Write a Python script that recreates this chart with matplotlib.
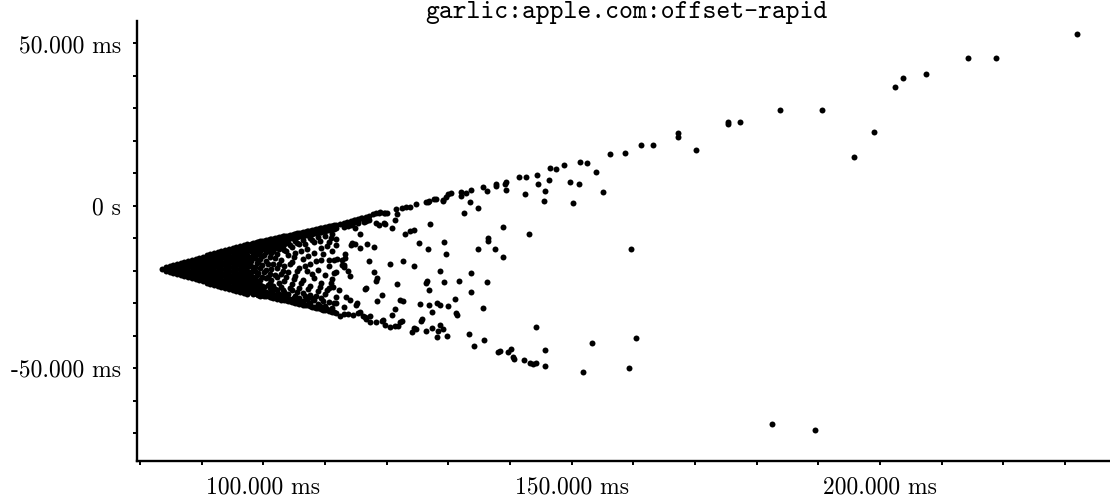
import matplotlib
matplotlib.use("Agg")
import matplotlib.pyplot as plt
from matplotlib.ticker import MultipleLocator

plt.rcParams['font.family'] = ['cmr10', 'DejaVu Serif']
plt.rcParams['axes.unicode_minus'] = False

# offsets (ms) vs round-trip delay (ms)
# solid apex of the fan: delay -> list of offsets
apex_cols = {
    83.6: [-19.4],
    84.2: [-18.9, -19.9],
    84.8: [-18.6, -19.4, -20.2],
    85.4: [-18.2, -19.0, -19.8, -20.6],
    86.0: [-17.9, -18.9, -19.9, -20.9],
    86.6: [-17.6, -18.5, -19.4, -20.3, -21.2],
    87.2: [-17.2, -18.3, -19.4, -20.5, -21.6],
    87.8: [-16.9, -17.9, -18.9, -19.9, -20.9, -21.9],
    88.4: [-16.6, -17.7, -18.8, -20.0, -21.1, -22.2],
    89.0: [-16.2, -17.3, -18.3, -19.4, -20.5, -21.5, -22.6],
    89.6: [-15.9, -17.1, -18.2, -19.4, -20.6, -21.7, -22.9],
    90.2: [-15.6, -16.7, -17.8, -18.9, -19.9, -21.0, -22.1, -23.2],
    90.8: [-15.2, -16.3, -17.3, -18.4, -19.4, -20.5, -21.5, -22.6, -23.6],
    91.4: [-14.9, -16.0, -17.1, -18.3, -19.4, -20.5, -21.7, -22.8, -23.9],
    92.0: [-14.6, -15.7, -16.7, -17.8, -18.9, -19.9, -21.0, -22.1, -23.1, -24.2],
    92.6: [-14.2, -15.4, -16.5, -17.7, -18.8, -20.0, -21.2, -22.3, -23.5, -24.6],
    93.2: [-13.9, -15.0, -16.1, -17.2, -18.3, -19.4, -20.5, -21.6, -22.7, -23.8, -24.9],
    93.8: [-13.6, -14.8, -15.9, -17.1, -18.2, -19.4, -20.6, -21.7, -22.9, -24.0, -25.2],
    94.4: [-13.2, -14.3, -15.5, -16.6, -17.7, -18.8, -20.0, -21.1, -22.2, -23.3, -24.5, -25.6],
    95.0: [-12.9, -14.1, -15.3, -16.4, -17.6, -18.8, -20.0, -21.2, -22.4, -23.5, -24.7, -25.9],
    95.6: [-12.6, -13.7, -14.9, -16.0, -17.1, -18.3, -19.4, -20.5, -21.7, -22.8, -23.9, -25.1, -26.2],
    96.2: [-12.2, -13.4, -14.6, -15.8, -17.0, -18.2, -19.4, -20.6, -21.8, -23.0, -24.2, -25.4, -26.6],
    96.8: [-11.9, -13.1, -14.2, -15.4, -16.5, -17.7, -18.8, -20.0, -21.1, -22.3, -23.4, -24.6, -25.7, -26.9],
    97.4: [-11.6, -12.8, -14.0, -15.2, -16.4, -17.6, -18.8, -20.0, -21.2, -22.4, -23.6, -24.8, -26.0, -27.2],
}

# opening part of the fan, holes start to appear
fan_cols = {
    98.0: [-11.6, -12.8, -14.0, -15.6, -17.0, -18.4, -20.2, -21.5, -23.0, -24.4, -25.6, -26.6],
    98.6: [-11.3, -12.4, -13.6, -16.0, -18.8, -19.9, -22.6, -24.0, -25.3, -26.9],
    99.2: [-11.0, -12.1, -13.3, -14.7, -17.4, -20.6, -23.4, -25.2, -26.3, -27.3],
    99.8: [-10.8, -11.9, -13.1, -15.5, -18.1, -21.8, -24.6, -25.9, -27.5],
    100.4: [-10.6, -11.6, -12.8, -14.2, -16.8, -19.6, -22.3, -26.6, -27.8],
    101.0: [-10.3, -11.4, -12.6, -15.8, -20.9, -23.6, -25.4, -26.8, -27.9],
    101.6: [-10.1, -11.1, -12.3, -13.9, -17.9, -24.5, -27.2, -28.3],
    102.2: [-9.8, -10.9, -12.0, -14.8, -19.2, -22.0, -26.0, -27.5, -28.6],
    102.8: [-9.6, -10.6, -11.8, -16.6, -21.0, -25.0, -27.8, -28.8],
    103.4: [-9.3, -10.4, -11.6, -13.5, -18.6, -23.2, -26.4, -28.1, -29.0],
    104.0: [-9.1, -10.1, -11.3, -15.0, -20.4, -27.1, -28.4, -29.3],
    104.6: [-8.8, -9.9, -12.6, -17.2, -24.0, -26.0, -28.7, -29.5],
    105.2: [-8.6, -9.6, -10.8, -14.4, -21.6, -27.6, -29.0, -29.8],
    105.8: [-8.3, -9.4, -11.8, -19.0, -25.2, -28.2, -30.1],
    106.4: [-8.1, -9.1, -10.4, -16.2, -22.8, -26.8, -29.2, -30.4],
    107.0: [-7.8, -8.9, -13.2, -20.0, -28.6, -30.6],
    107.6: [-7.6, -8.6, -9.8, -17.8, -24.6, -27.4, -29.8, -30.9],
    108.2: [-7.3, -8.4, -11.2, -14.6, -22.2, -29.0, -31.2],
    108.8: [-7.1, -8.1, -9.5, -19.6, -26.2, -30.2, -31.5],
    109.4: [-6.8, -7.9, -12.8, -16.6, -23.6, -28.4, -31.8],
    110.0: [-6.6, -7.6, -9.2, -21.2, -27.0, -30.8, -32.0],
    110.6: [-6.3, -7.4, -11.0, -18.4, -25.4, -29.6, -32.3],
    111.2: [-6.1, -7.1, -8.6, -14.0, -22.6, -31.4, -32.6],
    111.8: [-5.8, -6.9, -10.2, -20.4, -28.0, -32.9],
}

# extra points in between the fan columns
fan_cols_b = {
    98.3: [-11.5, -12.6, -15.0, -19.2, -22.0, -25.0, -26.2, -27.0],
    98.9: [-11.2, -12.3, -14.2, -17.6, -21.2, -23.6, -26.0, -27.1],
    99.5: [-10.9, -12.0, -13.9, -16.4, -19.0, -22.8, -24.4, -26.6, -27.6],
    100.1: [-10.7, -11.8, -15.0, -20.4, -25.0, -27.2, -27.8],
    100.7: [-10.4, -11.5, -13.4, -18.0, -21.8, -24.4, -27.4],
    101.3: [-10.2, -11.3, -14.6, -19.4, -22.8, -26.2, -27.9],
    101.9: [-10.0, -11.0, -12.8, -16.0, -21.2, -25.6, -28.0],
    102.5: [-9.7, -10.8, -13.2, -17.8, -23.8, -27.0, -28.4],
    103.1: [-9.4, -10.5, -12.4, -20.0, -26.0, -28.6],
    103.7: [-9.2, -10.2, -14.0, -22.0, -27.6, -28.9],
    104.3: [-8.9, -10.0, -12.0, -18.0, -25.4, -29.2],
    104.9: [-8.7, -9.7, -15.6, -22.4, -28.2, -29.6],
    105.5: [-8.4, -9.5, -11.4, -20.0, -26.4, -29.8],
    106.1: [-8.2, -9.2, -13.8, -23.8, -29.6],
    106.7: [-7.9, -9.0, -11.6, -18.6, -27.8, -30.4],
    107.3: [-7.7, -8.7, -15.4, -25.6, -30.2],
    107.9: [-7.4, -8.5, -10.6, -21.0, -28.4, -31.0],
    108.5: [-7.2, -8.2, -17.0, -27.6, -31.3],
    109.1: [-6.9, -8.0, -10.8, -24.8, -30.8],
    109.7: [-6.7, -7.7, -14.8, -29.2, -31.9],
    110.3: [-6.4, -7.5, -12.2, -26.0, -31.6],
    110.9: [-6.2, -7.2, -9.8, -23.8, -32.4],
    111.5: [-5.9, -7.0, -16.6, -30.0, -32.7],
}

# scattered points in the middle of the fan
mid_pts = [
    (112.4, -5.5), (113.0, -5.2), (113.0, -6.4), (113.6, -4.9), (114.2, -4.6), (114.2, -5.8),
    (114.8, -4.3), (115.4, -4.0), (115.4, -5.3), (116.0, -3.7), (116.6, -3.3), (116.6, -4.6),
    (117.2, -3.0), (117.2, -4.2), (116.3, -4.8), (116.8, -3.7), (115.9, -3.8), (115.4, -4.5),
    (114.7, -4.2), (114.5, -5.2), (113.7, -6.2), (114.8, -6.9),
    (113.3, -14.9), (113.3, -16.1), (112.8, -16.6), (111.9, -16.4), (111.8, -12.0),
    (113.0, -33.2), (113.8, -33.4), (114.6, -33.6), (115.4, -33.0), (112.4, -33.8), (116.2, -33.8),
    (110.7, -16.6), (111.5, -20.7), (113.0, -18.7), (111.3, -24.8), (112.3, -25.8), (113.4, -27.9),
    (111.8, -29.9), (113.1, -31.0), (114.1, -28.9),
    (115.7, -8.6), (114.4, -11.3), (114.2, -12.0), (114.8, -11.8), (115.6, -12.8), (116.8, -11.8),
    (118.0, -12.7), (117.2, -16.9), (117.9, -20.3), (118.5, -22.2), (118.3, -23.0), (119.2, -27.3),
    (118.5, -29.2), (121.7, -24.0), (122.2, -28.8), (122.7, -29.4), (121.3, -31.8), (120.9, -33.5),
    (122.1, -35.6), (121.8, -36.9), (121.3, -36.9), (120.6, -37.1), (119.8, -36.5), (119.3, -35.3),
    (118.3, -35.8), (117.3, -35.6), (116.6, -34.9), (116.4, -34.1), (117.3, -33.9), (115.7, -32.5),
    (122.4, -35.5), (119.4, -35.1),
    (116.4, -25.6), (116.6, -25.2), (115.1, -29.9), (115.0, -30.5), (114.1, -21.5), (113.7, -19.9),
    (112.8, -18.2), (113.1, -18.2),
    (117.8, -2.4), (118.3, -2.1), (118.9, -2.0), (119.6, -2.1), (120.0, -2.2), (118.8, -2.2),
    (119.7, -2.2), (121.5, -1.0), (122.4, -0.7), (123.2, -0.4), (123.7, -0.2), (126.9, 1.5),
    (129.1, 1.5),
    (124.7, 0.7), (126.3, 1.1), (126.7, 1.3), (127.6, 2.2), (128.0, 2.2), (129.1, 1.8),
    (129.6, 2.9), (130.0, 3.6), (130.5, 4.1), (132.6, -2.3), (134.8, -0.7), (133.5, 1.3),
    (132.1, 3.1), (132.0, 4.4), (132.8, 3.9), (133.6, 4.9), (135.6, 5.8), (136.2, 4.6),
    (139.3, 5.0), (137.8, 6.2), (137.7, 6.6), (139.2, 6.8), (139.3, 7.5), (142.5, 3.6),
    (145.5, 1.4), (145.7, 4.5), (144.6, 6.9), (146.3, 7.9), (141.4, 8.9), (142.6, 8.8),
    (144.3, 9.5), (146.5, 11.7), (147.4, 11.3),
    (138.8, -6.4), (143.1, -8.7), (136.4, -10.0), (136.5, -10.8), (134.8, -13.4), (137.5, -13.4),
    (138.9, -15.6), (129.3, -11.0), (129.6, -14.9), (127.0, -5.7), (125.2, -11.3), (126.7, -13.4),
    (124.4, -18.4), (122.6, -16.9), (120.5, -17.9), (123.8, -7.6), (124.4, -7.3), (122.9, -8.7),
    (120.8, -6.8), (121.3, -4.2), (121.6, -2.5), (119.5, -5.1), (119.8, -5.5), (118.7, -5.9),
    (118.3, -5.1),
    (126.5, -23.1), (126.4, -23.6), (126.9, -25.9), (129.3, -23.5), (128.6, -20.1), (131.7, -23.2),
    (133.6, -20.5), (133.6, -26.4), (136.2, -23.3),
    (128.6, -30.6), (128.1, -29.8), (126.9, -30.6), (127.3, -32.5), (125.4, -30.2), (135.6, -31.3),
    (131.2, -32.9), (131.4, -33.5), (131.0, -28.5), (130.0, -30.8),
    (129.7, -40.1), (129.2, -37.8), (128.7, -36.5), (128.1, -40.2), (128.3, -38.6), (127.3, -37.6),
    (126.4, -38.6), (125.7, -34.9), (125.5, -35.4), (124.1, -38.8), (124.4, -37.7), (124.8, -38.0),
    (135.7, -41.1), (134.2, -43.2), (133.3, -39.4), (138.0, -44.8), (138.4, -44.5), (140.2, -44.0),
    (139.6, -45.1), (140.4, -46.6), (140.7, -47.2), (142.2, -47.3), (143.3, -48.3), (143.8, -48.5),
    (144.2, -48.3), (144.2, -37.3), (145.7, -44.2), (145.7, -49.4),
]

# sparse outliers at long delays
far_pts = [
    (231.9, 52.9), (218.8, 45.4), (214.3, 45.4), (207.5, 40.5), (203.7, 39.5), (202.5, 36.7),
    (199.0, 22.8), (195.8, 15.0), (190.6, 29.5), (183.8, 29.5), (177.3, 25.8), (175.4, 25.2),
    (175.3, 25.8), (170.2, 17.1), (167.3, 22.3), (167.3, 21.2), (163.2, 18.9), (161.2, 18.8),
    (158.7, 16.2), (156.2, 16.1), (155.0, 4.4), (153.9, 10.5), (152.5, 13.1), (151.3, 13.6),
    (148.7, 12.5), (151.2, 6.9), (149.8, 7.4), (150.2, 1.0), (159.6, -13.1), (153.3, -42.1),
    (160.4, -40.5), (151.8, -51.1), (159.3, -49.9), (182.5, -67.1), (189.5, -69.1),
]

yticks = [-50, 0, 50]
ytick_labels = ['-50.000 ms', '0 s', '50.000 ms']
xticks = [100, 150, 200]
xtick_labels = ['100.000 ms', '150.000 ms', '200.000 ms']

xs, ys = [], []
for cols in (apex_cols, fan_cols, fan_cols_b):
    for d, offs in cols.items():
        xs += [d] * len(offs)
        ys += offs
for d, o in mid_pts + far_pts:
    xs.append(d)
    ys.append(o)

fig = plt.figure(figsize=(11.1, 5.01), dpi=100)
ax = fig.add_axes([0.1237, 0.0804, 0.8763, 0.8783])
ax.plot(xs, ys, 'o', color='k', ms=4.3, mew=0, clip_on=False)

ax.set_xlim(79.55, 237.3)
ax.set_ylim(-78.4, 57.0)
ax.set_xticks(xticks, labels=xtick_labels)
ax.set_yticks(yticks, labels=ytick_labels)
ax.xaxis.set_minor_locator(MultipleLocator(10))
ax.yaxis.set_minor_locator(MultipleLocator(10))
ax.tick_params(which='both', direction='out', length=3, width=1.4, labelsize=17)
ax.tick_params(axis='x', pad=8)
ax.tick_params(axis='y', pad=9)

for s in ('top', 'right'):
    ax.spines[s].set_visible(False)
for s in ('left', 'bottom'):
    ax.spines[s].set_linewidth(1.7)

fig.text(0.5644, 0.965, 'garlic:apple.com:offset-rapid', family='cmtt10',
         fontsize=19, ha='center', va='baseline')

fig.savefig('out.png', dpi=100)
